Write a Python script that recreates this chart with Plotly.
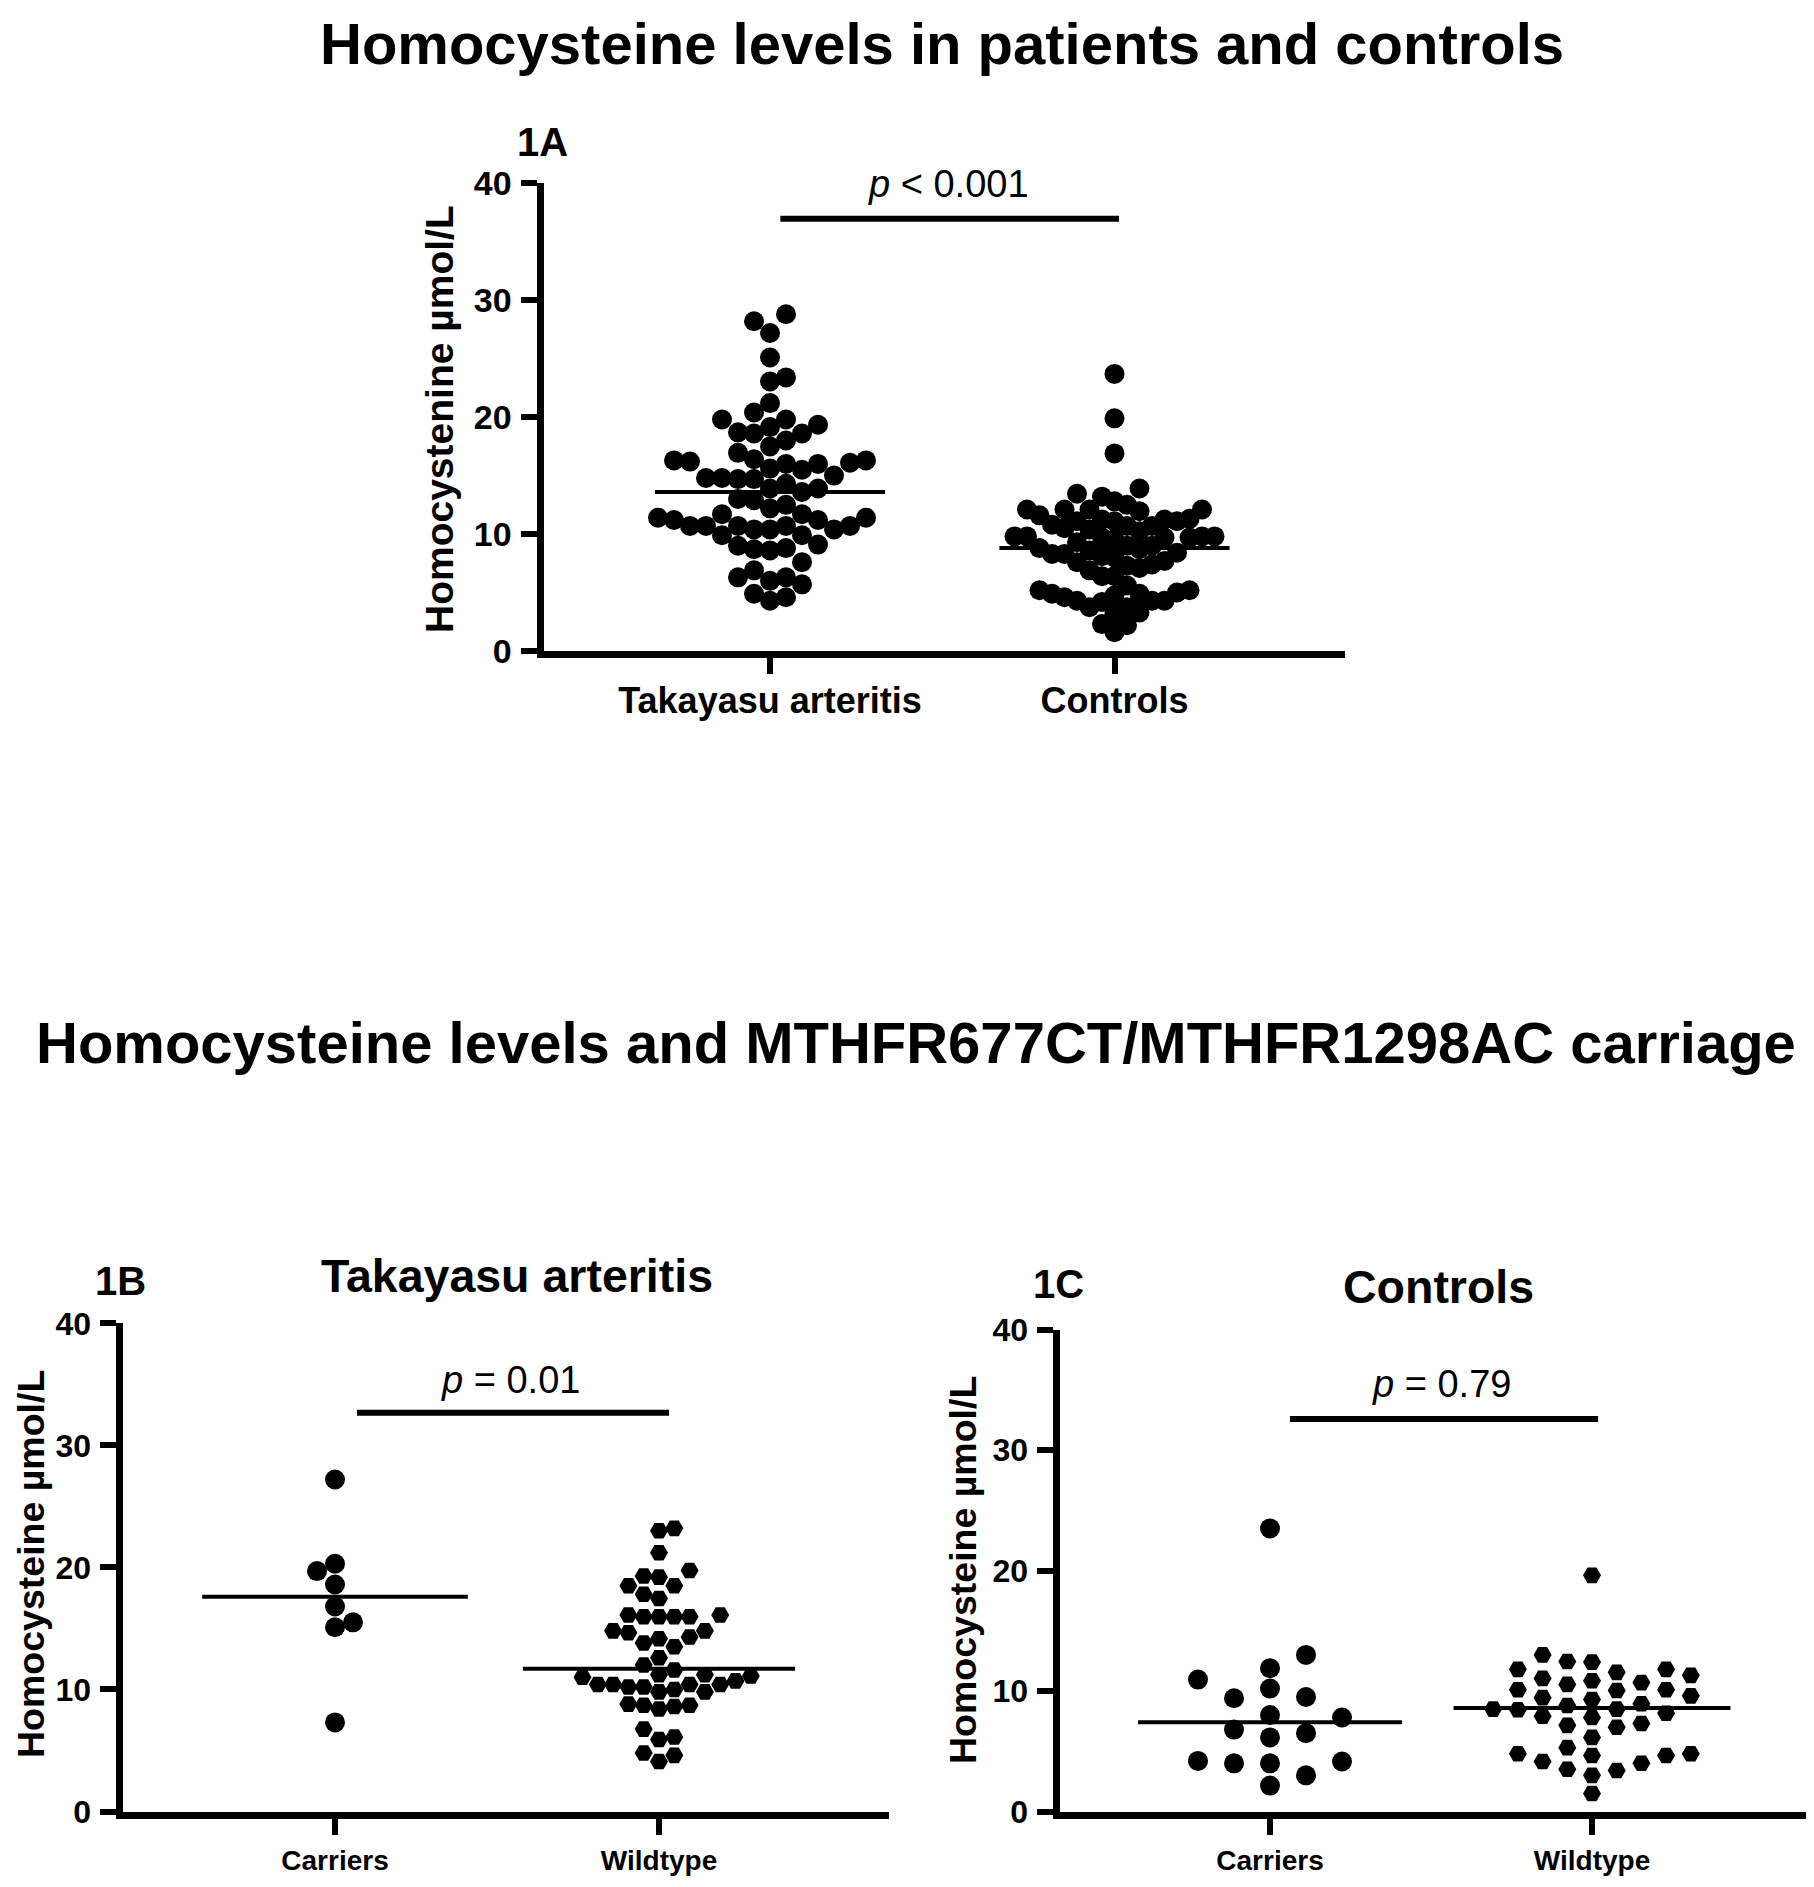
import numpy as np
import plotly.graph_objects as go

W, H = 1814, 1887
PAGE = 8  # default body margin of the html page
LW = 7    # axis line width

# ---- data (µmol/L) ----
# 1A: all patients vs all controls
ta_all = [28.2, 28.8, 27.2, 25.1, 23.4, 23.05, 21.2, 20.4, 19.35, 18.7,
          19.15, 19.8, 19.8, 18.6, 18.6, 18.0, 17.5, 16.95, 16.1, 15.0,
          16.0, 15.6, 16.4, 16.3, 16.2, 16.3, 15.5, 16.0, 14.8, 14.7,
          14.8, 14.7, 14.3, 13.9, 13.9, 13.6, 13.0, 12.5, 12.9, 12.2,
          10.7, 11.2, 11.7, 11.7, 11.4, 10.4, 10.7, 10.4, 10.7, 10.7,
          10.4, 10.7, 11.4, 11.2, 9.9, 9.9, 8.8, 8.6, 8.7, 9.0,
          9.1, 7.6, 6.0, 5.7, 6.3, 6.9, 6.3, 4.3, 4.6, 4.9]
ctrl_all = [23.7, 19.9, 16.9, 13.9, 13.2, 12.5, 13.45, 12.8,
            12.1, 12.1, 11.95, 12.1, 12.1, 11.6, 11.25,
            11.25, 10.7, 10.5, 11.1, 11.1, 11.3, 10.8, 10.7, 11.1,
            10.25, 9.8, 10.4, 9.8, 9.7, 9.8, 9.8, 9.55,
            9.7, 9.3, 9.0, 9.7, 9.0, 8.7, 8.3, 8.8, 8.6, 8.4, 8.3, 8.1,
            8.0, 7.4, 7.7, 7.1, 7.3, 6.9, 7.6, 6.4, 6.4,
            5.6, 4.9, 4.75, 4.3, 5.2, 4.6, 4.9, 5.2,
            4.2, 4.3, 3.75, 3.75, 4.3, 5.0, 3.2, 3.3, 2.2, 2.3, 1.6]
groups_1a = ["Takayasu arteritis", "Controls"]
medians_1a = [13.6, 8.8]

# 1B: Takayasu arteritis by MTHFR carriage
ta_carriers = [27.2, 19.7, 20.3, 18.6, 16.8, 15.5, 15.1, 7.3]
ta_wildtype = [23.2, 23.0, 21.2, 19.75, 19.2, 18.5, 18.5, 19.3, 17.8, 17.45,
               16.1, 16.1, 15.95, 15.95, 15.95, 15.95, 14.65, 14.8, 14.15, 13.8,
               14.3, 14.8, 13.5, 12.6, 11.6, 12.0, 11.1, 10.4, 10.7, 10.4,
               11.0, 11.2, 11.2, 9.8, 9.8, 10.0, 10.2, 10.4, 10.4, 10.2,
               8.7, 8.7, 8.4, 8.6, 8.8, 5.9, 6.1, 6.75, 4.1, 4.6, 4.8]
medians_1b = [17.6, 11.7]

# 1C: controls by MTHFR carriage
ctrl_carriers = [23.5, 13.0, 11.9, 10.95, 10.2, 9.5, 9.4, 8.0, 7.8, 6.8,
                 6.5, 6.15, 4.2, 4.0, 4.15, 4.0, 3.0, 2.15]
ctrl_wildtype = [19.6, 13.0, 12.45, 12.4, 11.8, 11.8, 11.55, 11.05, 11.3, 10.7,
                 10.85, 10.55, 10.05, 10.1, 10.1, 9.45, 9.6, 9.3, 8.95, 8.5,
                 8.5, 8.8, 8.45, 7.9, 8.15, 7.8, 7.3, 7.0, 7.15, 6.15,
                 5.3, 4.65, 4.8, 4.8, 4.65, 4.15, 4.0, 3.4, 3.5, 3.0, 1.5]
groups_bc = ["Carriers", "Wildtype"]
medians_1c = [7.4, 8.6]

FONT = "Liberation Sans, Arial, sans-serif"


# pixel positions on the page -> paper coords
def px_x(p):
    return (p - PAGE) / W


def px_y(p):
    return 1 - (p - PAGE) / H


# panel boxes in page pixels: y-axis line x, x-axis end, y=40, y=0;
# cat = pixel x of the two categories
panels = {
    "1A": dict(box=(540, 1345, 183.3, 654.5), cat=(770, 1114.5)),
    "1B": dict(box=(119, 889, 1323.3, 1815), cat=(335, 659)),
    "1C": dict(box=(1056, 1822, 1329.6, 1815), cat=(1270, 1592)),
}
for p in panels.values():
    l, r, t, b = p["box"]
    l = l + LW / 2  # plotly draws the axis line just outside the domain
    b = b - LW / 2
    p["dom"] = (l, r, t, b)
    c0, c1 = p["cat"]
    step = c1 - c0
    p["xr"] = [(l - c0) / step, (r - c0) / step]
    p["ppx"] = step
    p["ppy"] = (b - t) / 40.0


def swarm(values, ppx, ppy, dx, dy):
    # column beeswarm, Prism-like: lowest values first, nearest free column
    vals = np.asarray(values, dtype=float)
    offs = np.zeros(len(vals))
    last = {}
    flip = 1
    for i in np.argsort(vals, kind="stable"):
        v = vals[i]
        k = 0
        done = False
        while not done:
            cands = [0] if k == 0 else [flip * k, -flip * k]
            for c in cands:
                if c not in last or (v - last[c]) * ppy >= dy:
                    last[c] = v
                    offs[i] = c * dx / ppx
                    if c != 0:
                        flip = -flip
                    done = True
                    break
            k += 1
    return offs


fig = go.Figure()

series = [
    ("1A", "x", "y", 0, ta_all, "circle", 20, 16, 19),
    ("1A", "x", "y", 1, ctrl_all, "circle", 20, 12.5, 18),
    ("1B", "x2", "y2", 0, ta_carriers, "circle", 20, 18, 20),
    ("1B", "x2", "y2", 1, ta_wildtype, "hexagon2", 18, 15.3, 17),
    ("1C", "x3", "y3", 0, ctrl_carriers, "circle", 20, 36, 20),
    ("1C", "x3", "y3", 1, ctrl_wildtype, "hexagon2", 18, 24.7, 18),
]
for name, xa, ya, pos, vals, sym, size, dx, dy in series:
    offs = swarm(vals, panels[name]["ppx"], panels[name]["ppy"], dx, dy)
    fig.add_trace(go.Scatter(
        x=pos + offs, y=vals, mode="markers", xaxis=xa, yaxis=ya,
        marker=dict(symbol=sym, size=size, color="black", line=dict(width=0)),
        cliponaxis=False, hoverinfo="y"))

# median lines
for xa, ya, meds, halves in [("x", "y", medians_1a, (0.334, 0.334)),
                             ("x2", "y2", medians_1b, (0.41, 0.42)),
                             ("x3", "y3", medians_1c, (0.41, 0.43))]:
    for pos, m in enumerate(meds):
        fig.add_trace(go.Scatter(
            x=[pos - halves[pos], pos + halves[pos]], y=[m, m], mode="lines",
            xaxis=xa, yaxis=ya, line=dict(color="black", width=4),
            hoverinfo="skip", cliponaxis=False))


def axes(name, ticktext, catfont, numsize, catpad):
    l, r, t, b = panels[name]["dom"]
    common = dict(showline=True, linewidth=LW, linecolor="black",
                  ticks="outside", ticklen=16, tickwidth=6, tickcolor="black",
                  showgrid=False, zeroline=False, fixedrange=True,
                  automargin=False)
    xa = dict(common, domain=[px_x(l), min(1.0, px_x(r))], range=panels[name]["xr"],
              tickvals=[0, 1], ticktext=ticktext, tickfont=catfont,
              ticklabelstandoff=catpad)
    ya = dict(common, domain=[px_y(b), px_y(t)], range=[0, 40],
              tickvals=[0, 10, 20, 30, 40],
              tickfont=dict(family=FONT, size=numsize, color="black", weight="bold"),
              ticklabelstandoff=2)
    return xa, ya


xa1, ya1 = axes("1A", groups_1a, dict(family=FONT, size=36, color="black", weight="bold"), 34, -4)
xa2, ya2 = axes("1B", groups_bc, dict(family=FONT, size=28, color="black", weight="bold"), 32, 2)
xa3, ya3 = axes("1C", groups_bc, dict(family=FONT, size=28, color="black", weight="bold"), 32, 2)
ya1["anchor"] = "x"
xa2["anchor"] = "y2"
ya2["anchor"] = "x2"
xa3["anchor"] = "y3"
ya3["anchor"] = "x3"

annotations = []


def label(text, x, y, size, bold=True, angle=0):
    annotations.append(dict(
        text=text, x=px_x(x), y=px_y(y), xref="paper", yref="paper",
        xanchor="center", yanchor="middle", showarrow=False, textangle=angle,
        font=dict(family=FONT, size=size, color="black",
                  weight="bold" if bold else "normal")))


label("Homocysteine levels in patients and controls", 942, 43, 58)
label("Homocysteine levels and MTHFR677CT/MTHFR1298AC carriage", 916, 1042, 58)
label("1A", 542, 142, 40)
label("1B", 120, 1281, 40)
label("1C", 1058, 1284, 40)
label("Takayasu arteritis", 517, 1276, 46.5)
label("Controls", 1438, 1287, 46.5)
label("Homocystenine µmol/L", 439, 419, 39, angle=-90)
label("Homocysteine µmol/L", 31, 1564, 37.5, angle=-90)
label("Homocysteine µmol/L", 963, 1570, 37.5, angle=-90)
label("<i>p</i> &lt; 0.001", 949, 184, 38, bold=False)
label("<i>p</i> = 0.01", 511, 1380, 38, bold=False)
label("<i>p</i> = 0.79", 1441, 1384, 38, bold=False)

# significance bars
shapes = []
for xr, yr, x0, x1, yv in [("x", "y", 0.03, 1.013, 36.97),
                           ("x2", "y2", 0.068, 1.031, 32.67),
                           ("x3", "y3", 0.062, 1.019, 32.58)]:
    shapes.append(dict(type="line", xref=xr, yref=yr, x0=x0, x1=x1, y0=yv, y1=yv,
                       line=dict(color="black", width=6)))

fig.update_layout(
    width=W, height=H,
    margin=dict(l=0, r=0, t=0, b=0, autoexpand=False),
    paper_bgcolor="white", plot_bgcolor="white",
    showlegend=False,
    xaxis=xa1, yaxis=ya1, xaxis2=xa2, yaxis2=ya2, xaxis3=xa3, yaxis3=ya3,
    annotations=annotations, shapes=shapes,
)

fig.write_html("out.html")
